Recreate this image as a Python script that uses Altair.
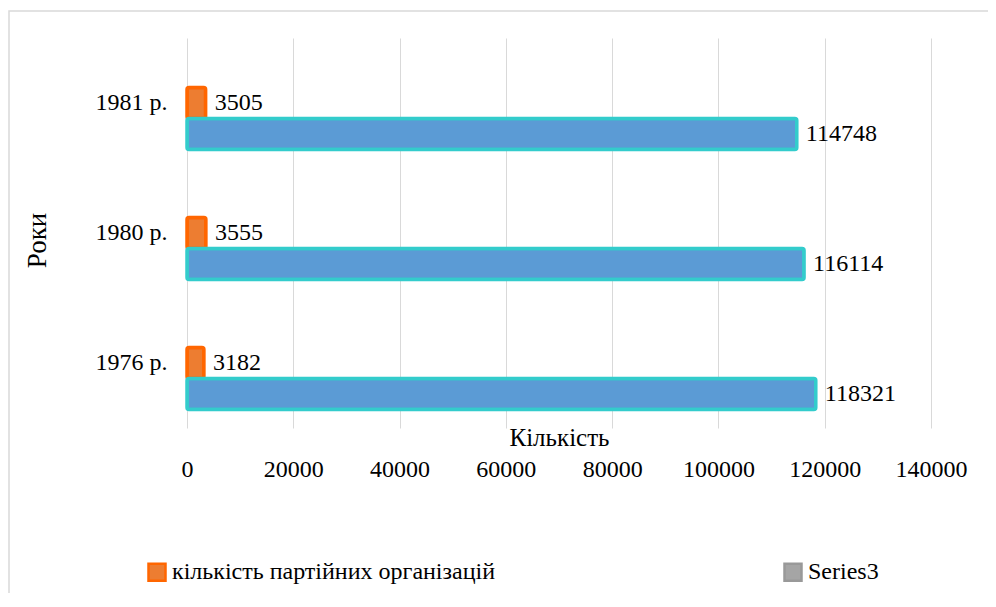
import altair as alt
import pandas as pd

years = ["1981 р.", "1980 р.", "1976 р."]
orgs = [3505, 3555, 3182]
members = [114748, 116114, 118321]
series_names = ["кількість партійних організацій", "кількість членів партії", "Series3"]
x_ticks = [0, 20000, 40000, 60000, 80000, 100000, 120000, 140000]

rows = []
for yr, o, m in zip(years, orgs, members):
    rows.append({"year": yr, "series": series_names[0], "value": o})
    rows.append({"year": yr, "series": series_names[1], "value": m})
df = pd.DataFrame(rows)

FONT = "Liberation Serif"
offset_domain = ["Series3", series_names[0], series_names[1]]

color_scale = alt.Scale(domain=series_names, range=["#ED7D31", "#5B9BD5", "#A5A5A5"])
stroke_scale = alt.Scale(domain=series_names, range=["#FF6600", "#33CCCC", "#999999"])


def make_legend():
    return alt.Legend(
        values=[series_names[0], "Series3"],
        orient="none",
        legendX=-42,
        legendY=522,
        direction="horizontal",
        symbolType="square",
        symbolSize=289,
        symbolStrokeWidth=2.5,
        labelFont=FONT,
        labelFontSize=24,
        labelColor="black",
        labelOffset=3,
        columnPadding=283,
        labelLimit=600,
        padding=0,
    )


y_enc = alt.Y(
    "year:N",
    sort=years,
    scale=alt.Scale(paddingInner=0.285, paddingOuter=0.1425),
    axis=alt.Axis(
        title="Роки",
        titleFont=FONT,
        titleFontSize=27,
        titleFontWeight="normal",
        titleColor="black",
        titleAngle=270,
        titleX=-150,
        titleY=202,
        titleAlign="center",
        titleBaseline="middle",
        labelFont=FONT,
        labelFontSize=24,
        labelColor="black",
        labelPadding=20,
        ticks=False,
        domain=False,
        grid=False,
    ),
)
yoff_enc = alt.YOffset("series:N", scale=alt.Scale(domain=offset_domain, paddingInner=0, paddingOuter=0))
x_enc = alt.X(
    "value:Q",
    scale=alt.Scale(domain=[0, 140000]),
    axis=alt.Axis(
        values=x_ticks,
        title="Кількість",
        titleFont=FONT,
        titleFontSize=25,
        titleFontWeight="normal",
        titleColor="black",
        titleY=17,
        titleBaseline="alphabetic",
        labelFont=FONT,
        labelFontSize=24,
        labelColor="black",
        labelPadding=29,
        labelFlush=False,
        labelOverlap=False,
        format="d",
        ticks=False,
        domain=False,
        grid=True,
        gridColor="#d9d9d9",
        gridWidth=1,
    ),
)

bars = alt.Chart(df).mark_bar(strokeWidth=3.5, cornerRadius=2).encode(
    x=x_enc,
    y=y_enc,
    yOffset=yoff_enc,
    color=alt.Color("series:N", scale=color_scale, legend=make_legend(), title=""),
    stroke=alt.Stroke("series:N", scale=stroke_scale, legend=make_legend(), title=""),
)

labels = alt.Chart(df).mark_text(
    align="left", baseline="middle", dx=9, font=FONT, fontSize=24, color="black"
).encode(
    x=alt.X("value:Q"),
    y=alt.Y("year:N", sort=years),
    yOffset=alt.YOffset("series:N"),
    text=alt.Text("value:Q", format="d"),
)

frame = alt.Chart(alt.Data(values=[{"a": 1}])).mark_rect(
    filled=False, stroke="#d9d9d9", strokeWidth=1.5
).encode(
    x=alt.value(-178), x2=alt.value(1000), y=alt.value(-27), y2=alt.value(700)
)

chart = (
    alt.layer(frame, bars, labels)
    .properties(
        width=744,
        height=390,
        autosize=alt.AutoSizeParams(type="none"),
        padding={"left": 179, "top": 30, "right": 57, "bottom": 165},
        background="white",
    )
    .configure_view(stroke="transparent")
    .configure_axis(labelFont=FONT, titleFont=FONT)
    .configure_legend(labelFont=FONT, titleFont=FONT)
    .configure_text(font=FONT)
)

chart.save("out.html", embed_options={"renderer": "svg", "actions": False})
